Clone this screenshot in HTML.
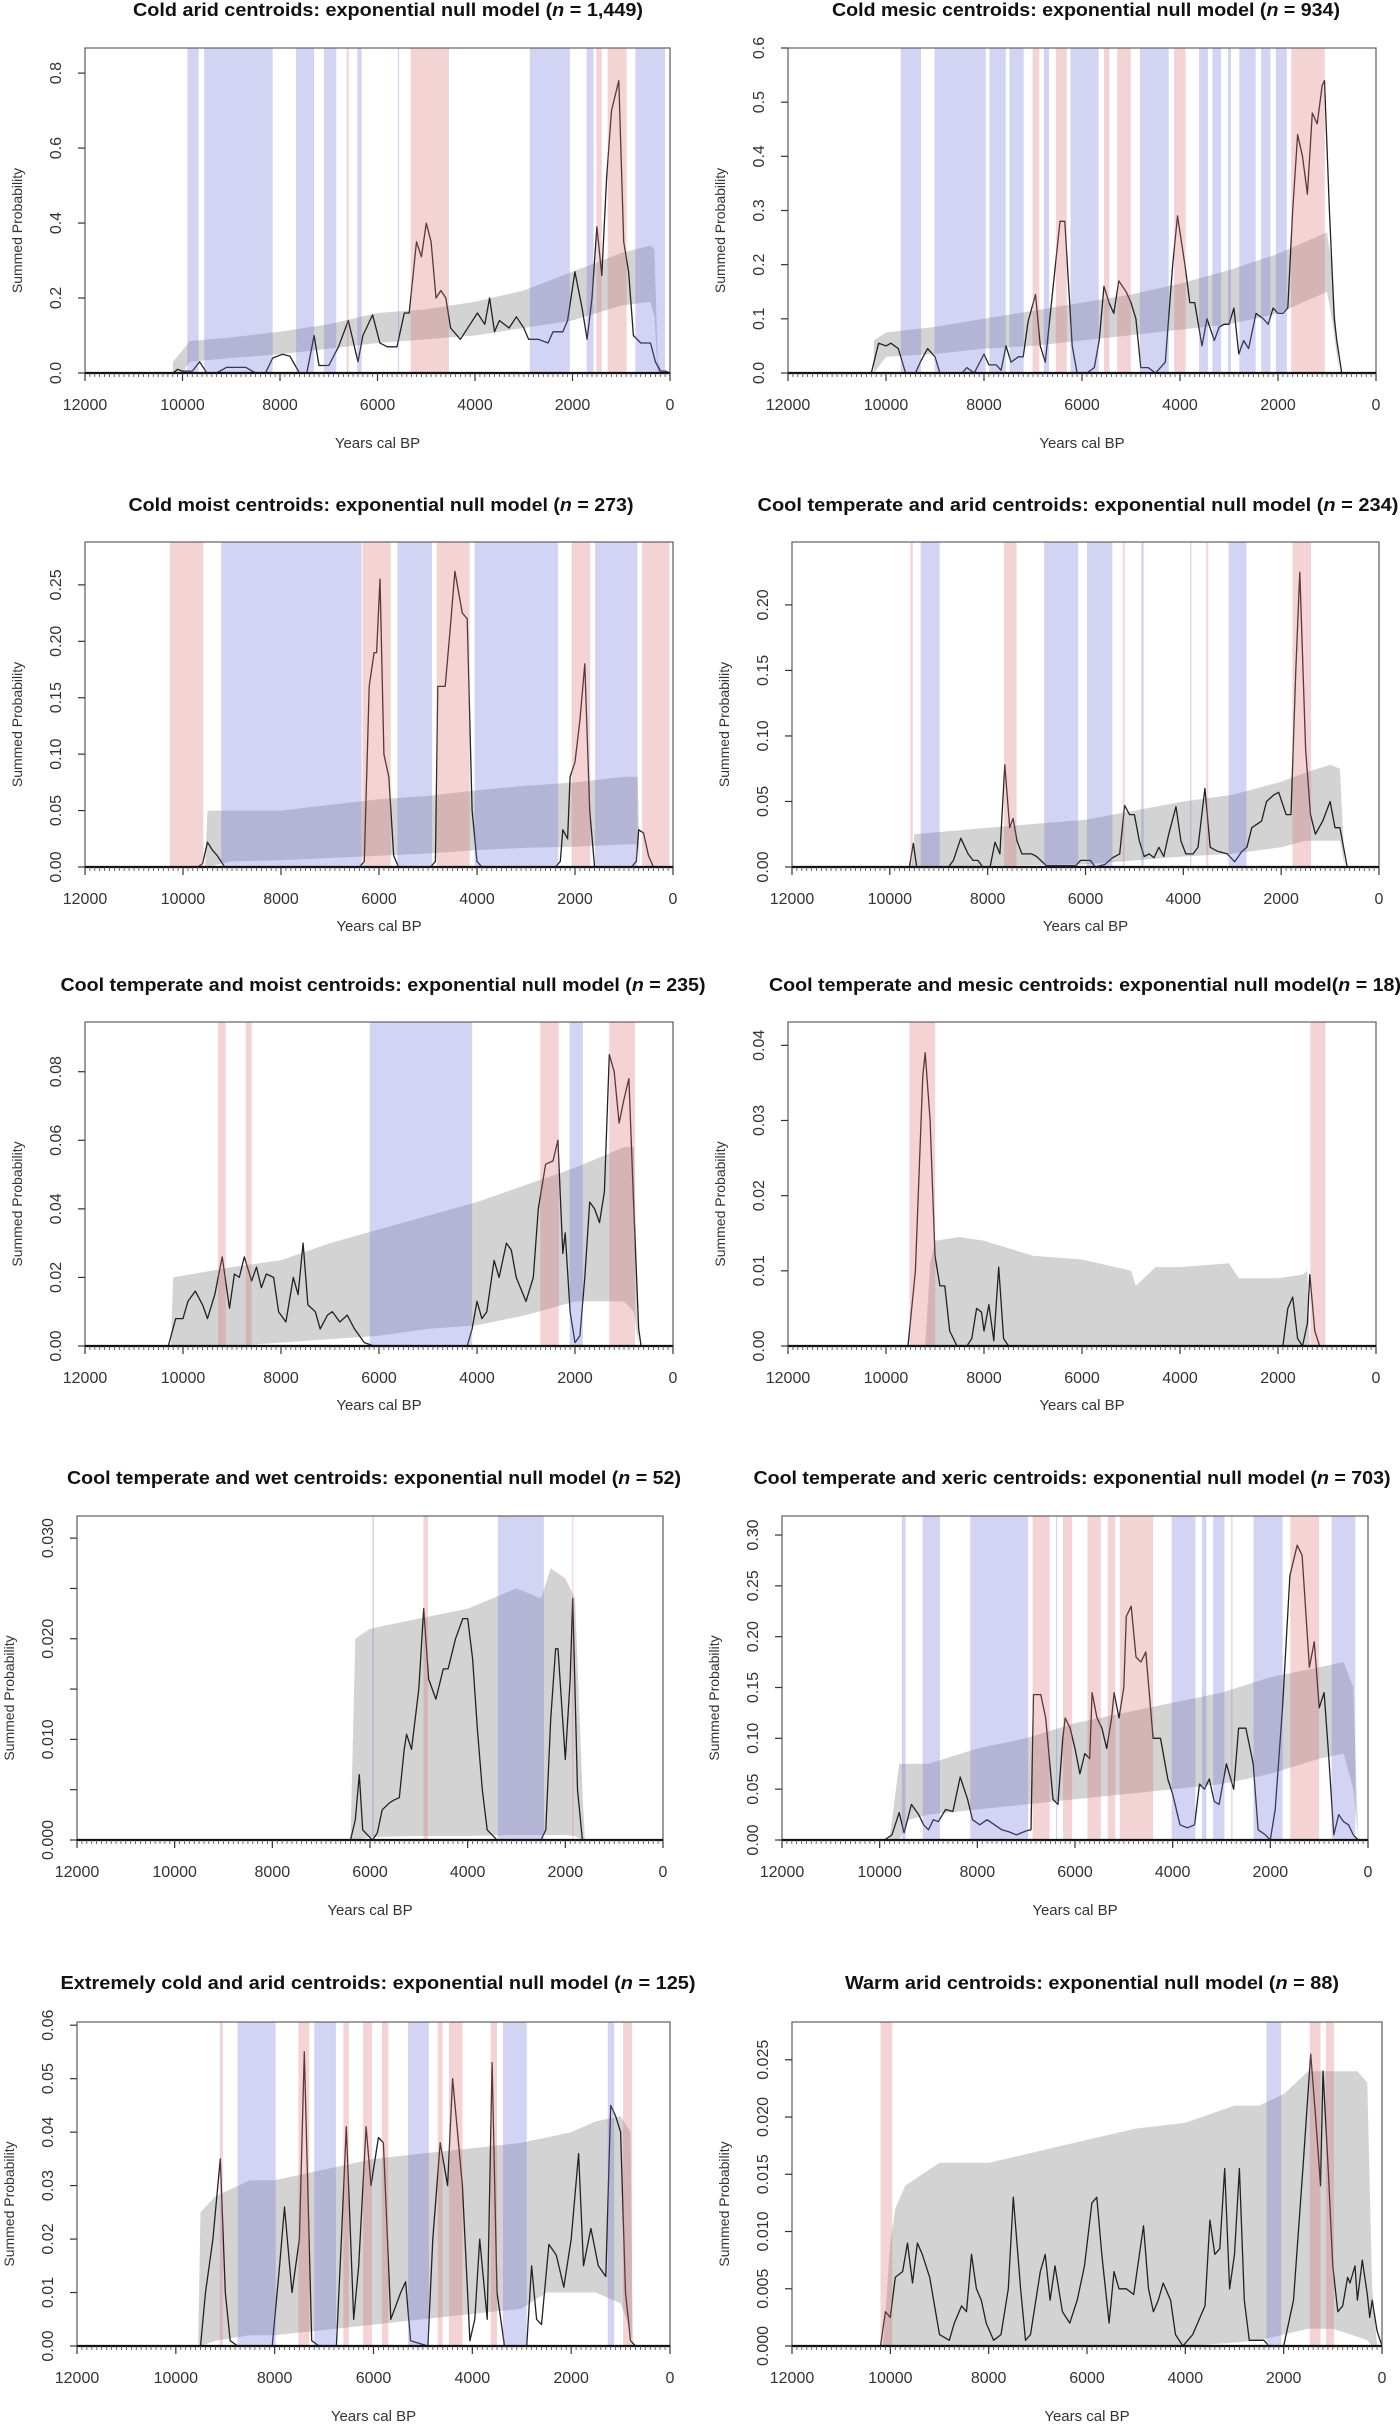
<!DOCTYPE html>
<html><head><meta charset="utf-8"><title>Summed probability panels</title>
<style>
html,body{margin:0;padding:0;background:#fff;}
svg{display:block;font-family:"Liberation Sans",Arial,sans-serif;}
</style></head>
<body>
<svg id="fig" width="1400" height="2424" viewBox="0 0 1400 2424" xmlns="http://www.w3.org/2000/svg"></svg>
<script>
// ---------- DATA (years cal BP, summed probability) ----------
const p1Line=[[12000,0],[10200,0],[10100,.01],[10000,.005],[9800,.005],[9650,.03],[9500,0],[9300,0],[9100,.015],[8700,.015],[8500,0],[8300,0],[8150,.04],[7950,.05],[7800,.045],[7600,0],[7450,0],[7300,.1],[7200,.02],[7000,.02],[6800,.07],[6600,.14],[6400,.03],[6300,.1],[6100,.155],[5950,.08],[5800,.07],[5600,.07],[5450,.16],[5350,.16],[5200,.35],[5100,.31],[5000,.40],[4900,.35],[4800,.2],[4700,.22],[4600,.2],[4500,.12],[4300,.09],[4100,.13],[3950,.16],[3800,.13],[3700,.2],[3600,.11],[3500,.14],[3300,.12],[3150,.15],[3000,.12],[2900,.09],[2700,.09],[2500,.08],[2400,.11],[2200,.11],[2100,.14],[1950,.27],[1800,.17],[1700,.09],[1600,.2],[1500,.39],[1400,.26],[1300,.52],[1200,.7],[1050,.78],[950,.35],[850,.27],[750,.1],[600,.08],[500,.08],[400,.08],[300,.03],[200,.005],[100,.005],[0,0]];
const p1Env=[[10200,0,.03],[10000,.0,.06],[9850,.03,.085],[9000,.04,.095],[8000,.05,.11],[7000,.065,.13],[6000,.08,.16],[5000,.09,.17],[4000,.1,.19],[3000,.12,.22],[2000,.14,.27],[1000,.18,.32],[400,.19,.34],[320,.15,.33],[250,.0,.03],[150,0,.0]];
const p1Blue=[[9900,9670],[9555,8150],[7670,7300],[7100,6845],[6415,6325],[5580,5560],[2875,2055],[1710,1570],[710,100]];
const p1Red=[[6635,6590],[5320,4535],[1510,1400],[1280,890]];

const p2Line=[[12000,0],[10300,0],[10150,.055],[10000,.05],[9900,.055],[9750,.045],[9600,0],[9400,0],[9300,.02],[9150,.045],[9000,.03],[8900,0],[8450,0],[8350,.01],[8200,0],[8000,.035],[7900,.015],[7750,.015],[7650,.005],[7550,.05],[7450,.02],[7300,.03],[7200,.03],[7100,.095],[6950,.145],[6850,.05],[6750,.02],[6600,.15],[6450,.28],[6350,.28],[6200,.05],[6100,0],[5900,0],[5750,.01],[5650,.06],[5550,.16],[5450,.13],[5350,.11],[5250,.17],[5100,.15],[5000,.13],[4900,.1],[4800,.01],[4650,.01],[4500,0],[4300,.02],[4150,.2],[4050,.29],[3900,.2],[3800,.13],[3700,.13],[3550,.05],[3450,.1],[3300,.06],[3200,.085],[3100,.09],[3000,.09],[2900,.12],[2800,.035],[2700,.06],[2600,.045],[2450,.11],[2300,.1],[2200,.09],[2100,.12],[2000,.11],[1900,.11],[1800,.12],[1700,.3],[1600,.44],[1500,.4],[1400,.33],[1300,.48],[1200,.46],[1100,.53],[1050,.54],[950,.3],[850,.1],[800,.06],[700,0],[0,0]];
const p2Env=[[10250,0,.06],[10000,.03,.075],[9000,.035,.085],[8000,.045,.1],[7000,.05,.115],[6000,.06,.13],[5000,.07,.145],[4000,.08,.165],[3000,.09,.19],[2000,.11,.22],[1000,.15,.26],[900,.1,.2],[750,0,0]];
const p2Blue=[[9700,9285],[9010,7965],[7890,7555],[7480,7190],[6780,6670],[6235,5660],[4820,4230],[3610,3430],[3340,3160],[3020,2960],[2790,2455],[2345,2155],[2045,1820]];
const p2Red=[[7010,6870],[6535,6310],[5550,5440],[5280,5005],[4120,3885],[1730,1045]];

const p3Line=[[12000,0],[9700,0],[9600,.003],[9500,.022],[9400,.015],[9300,.01],[9150,0],[6400,0],[6300,.005],[6200,.16],[6100,.19],[6050,.19],[5980,.255],[5900,.1],[5800,.08],[5700,.01],[5600,0],[4950,0],[4850,.005],[4800,.16],[4650,.16],[4550,.21],[4450,.262],[4300,.225],[4200,.22],[4100,.05],[4000,.005],[3900,0],[2400,0],[2300,.005],[2250,.033],[2150,.025],[2100,.08],[2000,.093],[1900,.13],[1800,.18],[1700,.05],[1600,0],[850,0],[750,.005],[700,.033],[600,.03],[500,.01],[400,0],[0,0]];
const p3Env=[[9550,0,0],[9500,0,.05],[9000,.005,.05],[8000,.006,.05],[7000,.008,.055],[6000,.01,.06],[5000,.012,.063],[4000,.015,.068],[3000,.017,.072],[2000,.018,.075],[1000,.02,.08],[720,.02,.08],[680,0,0]];
const p3Blue=[[9220,6355],[5625,4915],[4050,2345],[1590,725]];
const p3Red=[[10270,9585],[6335,5760],[4825,4150],[2070,1690],[630,70]];

const p4Line=[[12000,0],[9600,0],[9520,.018],[9450,0],[8800,0],[8700,.005],[8550,.022],[8400,.01],[8300,.005],[8200,.005],[8100,0],[7950,0],[7850,.019],[7750,.01],[7650,.078],[7550,.03],[7480,.037],[7400,.02],[7300,.01],[7100,.01],[7000,.008],[6800,.001],[6200,.001],[6100,.005],[5900,.005],[5800,0],[5600,.002],[5450,.007],[5300,.01],[5200,.047],[5100,.04],[5000,.04],[4900,.02],[4800,.008],[4700,.01],[4600,.007],[4500,.015],[4400,.008],[4300,.025],[4150,.046],[4050,.02],[3950,.01],[3800,.01],[3700,.015],[3560,.06],[3450,.015],[3300,.012],[3100,.01],[2950,.004],[2800,.012],[2700,.015],[2600,.03],[2400,.035],[2300,.05],[2150,.055],[2050,.057],[1900,.04],[1800,.04],[1700,.15],[1620,.225],[1500,.09],[1400,.04],[1300,.025],[1150,.035],[1000,.05],[900,.03],[800,.03],[700,.01],[650,0],[0,0]];
const p4Env=[[9550,0,0],[9500,0,.025],[8000,.001,.03],[6000,.002,.036],[4000,.008,.05],[3000,.01,.055],[2000,.015,.065],[1500,.02,.072],[1000,.02,.078],[800,.02,.075],[700,0,0]];
const p4Blue=[[9370,8980],[6845,6150],[5970,5450],[4860,4810],[3860,3840],[3075,2710]];
const p4Red=[[9580,9530],[7665,7410],[5240,5200],[3530,3490],[1770,1390]];

const p5Line=[[12000,0],[10300,0],[10150,.008],[10000,.008],[9900,.013],[9750,.016],[9600,.012],[9500,.008],[9350,.015],[9200,.026],[9050,.011],[8950,.021],[8850,.02],[8750,.026],[8600,.019],[8500,.023],[8400,.017],[8300,.021],[8150,.02],[8050,.01],[7900,.007],[7750,.02],[7650,.015],[7550,.03],[7450,.012],[7300,.01],[7200,.005],[7050,.009],[6950,.01],[6800,.007],[6650,.009],[6500,.005],[6300,.001],[6100,0],[4200,0],[4100,.005],[4000,.013],[3900,.008],[3800,.01],[3650,.025],[3550,.02],[3400,.03],[3300,.028],[3200,.02],[3000,.013],[2850,.02],[2750,.04],[2600,.053],[2450,.054],[2350,.06],[2250,.027],[2200,.033],[2100,.01],[2000,.001],[1900,.003],[1800,.02],[1700,.042],[1600,.04],[1500,.036],[1400,.045],[1300,.085],[1200,.08],[1100,.065],[1000,.072],[900,.078],[800,.04],[700,.005],[650,0],[0,0]];
const p5Env=[[10250,0,0],[10200,0,.02],[9000,0,.023],[8000,.001,.025],[7000,.002,.03],[6000,.003,.034],[5000,.005,.038],[4000,.006,.042],[3000,.009,.047],[2000,.013,.052],[1000,.013,.058],[800,.01,.058],[700,0,0]];
const p5Blue=[[6190,4100],[2110,1840]];
const p5Red=[[9285,9130],[8720,8600],[2710,2330],[1300,775]];

const p6Line=[[12000,0],[9550,0],[9400,.01],[9250,.036],[9200,.039],[9100,.03],[9000,.012],[8900,.008],[8800,.008],[8700,.002],[8550,0],[8350,0],[8250,.001],[8150,.005],[8050,.0045],[8000,.002],[7900,.0055],[7800,.0007],[7700,.0105],[7600,.001],[7500,0],[1900,0],[1800,.005],[1700,.0065],[1600,.001],[1500,0],[1400,.003],[1350,.0095],[1250,.002],[1150,0],[0,0]];
const p6Env=[[9200,0,0],[9100,0,.011],[9000,0,.014],[8500,0,.0145],[8000,0,.014],[7500,0,.013],[7000,0,.012],[6000,0,.0115],[5000,0,.01],[4900,0,.008],[4500,0,.0105],[4000,0,.0105],[3000,0,.011],[2800,0,.009],[2000,0,.009],[1500,0,.0095],[1400,0,.01],[1350,0,0]];
const p6Blue=[];
const p6Red=[[9520,8995],[1340,1030]];

const p7Line=[[12000,0],[6400,0],[6300,.002],[6220,.0065],[6150,.001],[5950,0],[5850,.0007],[5750,.003],[5600,.0037],[5500,.004],[5400,.0042],[5300,.009],[5250,.0105],[5150,.009],[5000,.015],[4900,.023],[4800,.016],[4650,.014],[4500,.017],[4400,.017],[4250,.02],[4100,.022],[4000,.022],[3900,.018],[3800,.011],[3700,.005],[3600,.001],[3400,0],[2500,0],[2400,.001],[2300,.012],[2200,.019],[2150,.019],[2000,.008],[1900,.016],[1850,.024],[1750,.005],[1650,0],[0,0]];
const p7Env=[[6400,0,0],[6300,0,.02],[6000,.0003,.021],[5000,.0004,.022],[4000,.0004,.023],[3000,.0005,.025],[2500,.0005,.024],[2300,.0005,.027],[2000,.0005,.026],[1800,.0004,.024],[1650,0,.005],[1600,0,0]];
const p7Blue=[[5950,5920],[3380,2440]];
const p7Red=[[4905,4815],[1860,1840]];

const p8Line=[[12000,0],[9900,0],[9750,.005],[9600,.027],[9500,.007],[9350,.035],[9200,.025],[9100,.015],[9000,.01],[8900,.02],[8800,.018],[8650,.03],[8500,.028],[8350,.062],[8200,.04],[8100,.02],[7950,.015],[7800,.02],[7500,.01],[7350,.008],[7200,.005],[7000,.009],[6900,.01],[6850,.143],[6700,.143],[6600,.12],[6450,.04],[6350,.035],[6250,.1],[6200,.12],[6100,.11],[6000,.09],[5900,.065],[5800,.085],[5700,.08],[5650,.145],[5550,.12],[5450,.11],[5350,.09],[5250,.12],[5200,.145],[5100,.12],[5000,.15],[4950,.22],[4850,.23],[4750,.18],[4650,.175],[4550,.185],[4400,.1],[4250,.1],[4100,.06],[4000,.045],[3850,.015],[3700,.012],[3550,.015],[3450,.055],[3350,.05],[3250,.06],[3150,.038],[3050,.035],[2900,.075],[2750,.05],[2650,.11],[2500,.11],[2350,.075],[2250,.01],[2100,.005],[2000,0],[1900,.03],[1750,.13],[1600,.26],[1450,.29],[1350,.28],[1200,.17],[1100,.195],[1000,.13],[900,.145],[800,.08],[700,.005],[600,.025],[500,.018],[400,.015],[300,.005],[200,0],[0,0]];
const p8Env=[[9800,0,0],[9600,0,.075],[9400,.02,.075],[9000,.025,.075],[8000,.03,.09],[7000,.035,.1],[6000,.04,.115],[5000,.045,.125],[4000,.05,.135],[3000,.055,.145],[2000,.065,.16],[1000,.08,.17],[500,.085,.175],[300,.05,.15],[200,0,0]];
const p8Blue=[[9545,9470],[9120,8765],[8145,6960],[6390,6370],[4020,3535],[3400,3310],[3170,2940],[2800,2780],[2345,1750],[745,260]];
const p8Red=[[6870,6520],[6245,6060],[5745,5470],[5330,5175],[5085,4400],[1590,1000]];

const p9Line=[[12000,0],[9500,0],[9400,.01],[9250,.02],[9100,.035],[9000,.01],[8900,.001],[8750,0],[8050,0],[7900,.015],[7800,.026],[7650,.01],[7500,.02],[7400,.055],[7250,.001],[7100,0],[6750,0],[6650,.02],[6550,.041],[6400,.005],[6300,.015],[6150,.041],[6050,.03],[5900,.039],[5800,.038],[5650,.005],[5450,.01],[5350,.012],[5250,.001],[4900,0],[4800,.02],[4650,.038],[4500,.03],[4400,.05],[4300,.04],[4200,.03],[4050,.001],[3950,.005],[3850,.02],[3700,.005],[3600,.053],[3500,.01],[3350,0],[2900,0],[2800,.015],[2700,.005],[2600,.004],[2450,.019],[2300,.017],[2150,.011],[2000,.02],[1850,.036],[1750,.015],[1600,.022],[1450,.015],[1300,.013],[1200,.045],[1100,.043],[1000,.04],[900,.01],[800,.001],[700,0],[0,0]];
const p9Env=[[9550,0,0],[9500,0,.025],[9200,.001,.028],[8500,.002,.031],[8000,.002,.031],[7000,.003,.033],[6000,.004,.035],[5000,.005,.036],[4000,.006,.037],[3000,.007,.038],[2500,.01,.039],[2000,.01,.04],[1500,.01,.042],[1000,.008,.043],[800,.003,.04],[750,0,0]];
const p9Blue=[[8750,7980],[7200,6760],[5300,4880],[3380,2900],[1260,1130]];
const p9Red=[[9110,9050],[7520,7300],[6610,6500],[6210,6030],[5830,5700],[4700,4600],[4475,4200],[3630,3500],[950,770]];

const p10Line=[[12000,0],[10200,0],[10100,.003],[10000,.0025],[9900,.006],[9750,.0065],[9650,.009],[9550,.0055],[9450,.009],[9350,.008],[9200,.006],[9000,.001],[8800,.0005],[8700,.002],[8550,.0035],[8450,.003],[8350,.008],[8250,.005],[8150,.004],[8050,.002],[7900,.0005],[7750,.001],[7600,.005],[7500,.013],[7350,.005],[7250,.0005],[7150,.001],[6950,.0065],[6850,.008],[6750,.004],[6650,.007],[6500,.003],[6350,.002],[6200,.004],[6050,.007],[5900,.0125],[5800,.013],[5700,.008],[5550,.002],[5450,.0065],[5350,.005],[5200,.005],[5050,.0045],[4950,.0075],[4850,.0105],[4750,.005],[4650,.003],[4550,.004],[4450,.0055],[4300,.004],[4200,.001],[4050,0],[3850,.001],[3750,.002],[3600,.0035],[3500,.011],[3400,.008],[3300,.0085],[3200,.0155],[3100,.005],[3000,.008],[2900,.0155],[2800,.004],[2700,.0005],[2400,.0005],[2300,0],[2000,0],[1800,.004],[1600,.016],[1450,.0255],[1350,.02],[1250,.014],[1200,.024],[1100,.016],[1000,.007],[900,.003],[800,.0035],[700,.006],[650,.0055],[550,.007],[500,.004],[400,.0075],[300,.0045],[250,.0025],[200,.004],[100,.0013],[0,0]];
const p10Env=[[10150,0,0],[10000,0,.009],[9900,0,.012],[9700,0,.014],[9000,0,.016],[8000,0,.016],[7000,0,.017],[6000,0,.018],[5000,0,.019],[4000,0,.0195],[3000,.0003,.021],[2500,.0005,.021],[2000,.001,.022],[1500,.0015,.024],[1000,.0015,.024],[500,.0008,.024],[300,.0005,.023],[200,0,.005],[100,0,0]];
const p10Blue=[[2350,2050]];
const p10Red=[[10200,9960],[1470,1250],[1140,975]];

// tick values per panel
const p1Ticks=[0,.2,.4,.6,.8], p1TickLabels=["0.0","0.2","0.4","0.6","0.8"];
const p2Ticks=[0,.1,.2,.3,.4,.5,.6], p2TickLabels=["0.0","0.1","0.2","0.3","0.4","0.5","0.6"];
const p3Ticks=[0,.05,.1,.15,.2,.25], p3TickLabels=["0.00","0.05","0.10","0.15","0.20","0.25"];
const p4Ticks=[0,.05,.1,.15,.2], p4TickLabels=["0.00","0.05","0.10","0.15","0.20"];
const p5Ticks=[0,.02,.04,.06,.08], p5TickLabels=["0.00","0.02","0.04","0.06","0.08"];
const p6Ticks=[0,.01,.02,.03,.04], p6TickLabels=["0.00","0.01","0.02","0.03","0.04"];
const p7Ticks=[0,.005,.01,.015,.02,.025,.03], p7TickLabels=["0.000","","0.010","","0.020","","0.030"];
const p8Ticks=[0,.05,.1,.15,.2,.25,.3], p8TickLabels=["0.00","0.05","0.10","0.15","0.20","0.25","0.30"];
const p9Ticks=[0,.01,.02,.03,.04,.05,.06], p9TickLabels=["0.00","0.01","0.02","0.03","0.04","0.05","0.06"];
const p10Ticks=[0,.005,.01,.015,.02,.025], p10TickLabels=["0.000","0.005","0.010","0.015","0.020","0.025"];
const xTicks=[12000,10000,8000,6000,4000,2000,0];

// ---------- LAYOUT ----------
const NS="http://www.w3.org/2000/svg";
const svg=document.getElementById('fig');
function mk(tag,attrs,parent){const e=document.createElementNS(NS,tag);for(const k in attrs)e.setAttribute(k,attrs[k]);(parent||svg).appendChild(e);return e;}

const panels=[
 {id:'cold-arid',t:'Cold arid centroids: exponential null model (',n:'1,449',tx:388,ty:16,tl:510,x0:85,x1:670,top:48,base:373,ymax:.867,line:p1Line,env:p1Env,blue:p1Blue,red:p1Red,ticks:p1Ticks,tl2:p1TickLabels,xl:70},
 {id:'cold-mesic',t:'Cold mesic centroids: exponential null model (',n:'934',tx:1086,ty:16,tl:508,x0:788,x1:1376,top:48,base:373,ymax:.6,line:p2Line,env:p2Env,blue:p2Blue,red:p2Red,ticks:p2Ticks,tl2:p2TickLabels,xl:70},
 {id:'cold-moist',t:'Cold moist centroids: exponential null model (',n:'273',tx:381,ty:511,tl:505,x0:85,x1:673,top:542,base:867,ymax:.288,line:p3Line,env:p3Env,blue:p3Blue,red:p3Red,ticks:p3Ticks,tl2:p3TickLabels,xl:59},
 {id:'cool-temperate-arid',t:'Cool temperate and arid centroids: exponential null model (',n:'234',tx:1078,ty:511,tl:641,x0:792,x1:1379,top:542,base:867,ymax:.248,line:p4Line,env:p4Env,blue:p4Blue,red:p4Red,ticks:p4Ticks,tl2:p4TickLabels,xl:59},
 {id:'cool-temperate-moist',t:'Cool temperate and moist centroids: exponential null model (',n:'235',tx:383,ty:991,tl:645,x0:85,x1:673,top:1022,base:1346,ymax:.0945,line:p5Line,env:p5Env,blue:p5Blue,red:p5Red,ticks:p5Ticks,tl2:p5TickLabels,xl:59},
 {id:'cool-temperate-mesic',t:'Cool temperate and mesic centroids: exponential null model(',n:'18',tx:1085,ty:991,tl:632,x0:788,x1:1376,top:1022,base:1346,ymax:.0431,line:p6Line,env:p6Env,blue:p6Blue,red:p6Red,ticks:p6Ticks,tl2:p6TickLabels,xl:59},
 {id:'cool-temperate-wet',t:'Cool temperate and wet centroids: exponential null model (',n:'52',tx:374,ty:1484,tl:614,x0:77,x1:663,top:1516,base:1840,ymax:.0322,line:p7Line,env:p7Env,blue:p7Blue,red:p7Red,ticks:p7Ticks,tl2:p7TickLabels,xl:70},
 {id:'cool-temperate-xeric',t:'Cool temperate and xeric centroids: exponential null model (',n:'703',tx:1072,ty:1484,tl:637,x0:782,x1:1368,top:1516,base:1840,ymax:.3187,line:p8Line,env:p8Env,blue:p8Blue,red:p8Red,ticks:p8Ticks,tl2:p8TickLabels,xl:70},
 {id:'extremely-cold-arid',t:'Extremely cold and arid centroids: exponential null model (',n:'125',tx:378,ty:1989,tl:635,x0:77,x1:670,top:2022,base:2346,ymax:.0606,line:p9Line,env:p9Env,blue:p9Blue,red:p9Red,ticks:p9Ticks,tl2:p9TickLabels,xl:70},
 {id:'warm-arid',t:'Warm arid centroids: exponential null model (',n:'88',tx:1092,ty:1989,tl:494,x0:792,x1:1382,top:2022,base:2346,ymax:.0283,line:p10Line,env:p10Env,blue:p10Blue,red:p10Red,ticks:p10Ticks,tl2:p10TickLabels,xl:70}
];

panels.forEach((p,pi)=>{
  const g=mk('g',{});
  
  
  const X=y=>p.x0+(12000-y)/12000*(p.x1-p.x0);
  const Y=v=>p.base-v/p.ymax*(p.base-p.top);
  // title
  const t=mk('text',{x:p.tx,y:p.ty,'text-anchor':'middle','font-size':'18','font-weight':'bold',fill:'#111',textLength:p.tl,lengthAdjust:'spacingAndGlyphs'},g);
  
  
  t.appendChild(document.createTextNode(p.t));
  const ti=mk('tspan',{'font-style':'italic'},t);ti.textContent='n';
  t.appendChild(document.createTextNode(' = '+p.n+')'));
  // clip
  const cp=mk('clipPath',{id:'clip'+pi},g);
  mk('rect',{x:p.x0,y:p.top,width:p.x1-p.x0,height:p.base-p.top},cp);
  const plot=mk('g',{'clip-path':'url(#clip'+pi+')'},g);
  // envelope
  let d='';
  p.env.forEach((e,i)=>{d+=(i?'L':'M')+X(e[0]).toFixed(1)+','+Y(e[2]).toFixed(1);});
  for(let i=p.env.length-1;i>=0;i--){d+='L'+X(p.env[i][0]).toFixed(1)+','+Y(p.env[i][1]).toFixed(1);}
  const env=mk('path',{d:d+'Z',fill:'#d3d3d3',stroke:'none'},plot);
  
  
  // spd line
  let ld='';
  p.line.forEach((q,i)=>{ld+=(i?'L':'M')+X(q[0]).toFixed(1)+','+Y(q[1]).toFixed(1);});
  const ln=mk('path',{d:ld,fill:'none',stroke:'#222','stroke-width':'1.3','stroke-linejoin':'round'},plot);
  
  
  // bands
  p.blue.forEach(b=>{
    const r=mk('rect',{x:X(b[0]),y:p.top,width:Math.max(1.2,X(b[1])-X(b[0])),height:p.base-p.top,fill:'rgb(110,110,220)','fill-opacity':'0.3'},plot);
    
    
  });
  p.red.forEach(b=>{
    const r=mk('rect',{x:X(b[0]),y:p.top,width:Math.max(1.2,X(b[1])-X(b[0])),height:p.base-p.top,fill:'rgb(220,110,115)','fill-opacity':'0.3'},plot);
    
    
  });
  // box
  const bx=mk('path',{d:`M${p.x0},${p.base}V${p.top}H${p.x1}V${p.base}`,fill:'none',stroke:'#666','stroke-width':'1.3'},g);
  
  
  const ax=mk('line',{x1:p.x0,x2:p.x1,y1:p.base,y2:p.base,stroke:'#111','stroke-width':'2.2'},g);
  
  
  // minor x ticks
  let md='';
  for(let yr=0;yr<=12000;yr+=100){md+='M'+X(yr).toFixed(1)+','+p.base+'v4';}
  mk('path',{d:md,stroke:'#444','stroke-width':'0.8'},g);
  xTicks.forEach(v=>{
    mk('line',{x1:X(v),x2:X(v),y1:p.base,y2:p.base+8,stroke:'#333','stroke-width':'1.2'},g);
    const tx=mk('text',{x:X(v),y:p.base+37,'text-anchor':'middle','font-size':'16',fill:'#333'},g);
    
    
    tx.textContent=String(v);
  });
  // y ticks
  p.ticks.forEach((v,i)=>{
    const yy=Y(v);
    mk('line',{x1:p.x0-7,x2:p.x0,y1:yy,y2:yy,stroke:'#333','stroke-width':'1.2'},g);
    const lab=p.tl2[i];
    if(lab){
      const tt=mk('text',{x:0,y:0,'text-anchor':'middle','font-size':'16',fill:'#333',transform:`translate(${p.x0-24},${yy}) rotate(-90)`},g);
      
      
      tt.textContent=lab;
    }
  });
  const yl=mk('text',{x:0,y:0,'text-anchor':'middle','font-size':'14',fill:'#333',transform:`translate(${p.x0-63},${(p.top+p.base)/2+20}) rotate(-90)`},g);
  
  
  yl.textContent='Summed Probability';
  const xl=mk('text',{x:(p.x0+p.x1)/2,y:p.base+p.xl+5,'text-anchor':'middle','font-size':'15',fill:'#333'},g);
  
  
  xl.textContent='Years cal BP';
});
</script>
</body></html>
